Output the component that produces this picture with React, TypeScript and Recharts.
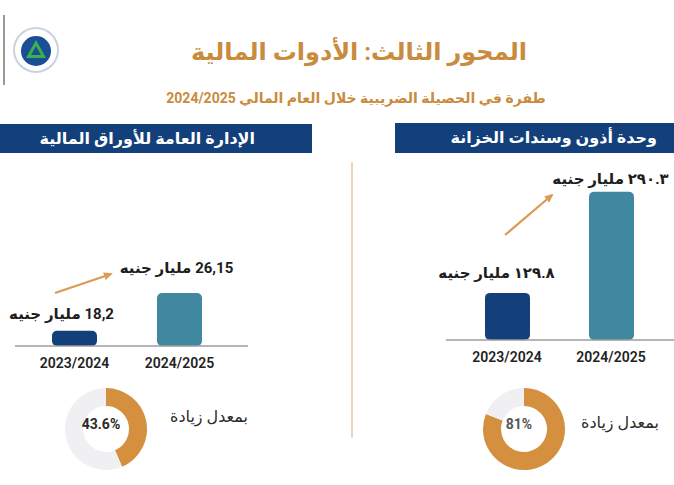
import React from 'react';
import { BarChart, Bar, XAxis, YAxis, LabelList, Cell, PieChart, Pie, Label } from 'recharts';

// fiscal years shown under both bar pairs
const years = ['2023/2024', '2024/2025'];
// الإدارة العامة للأوراق المالية (billion EGP)
const securitiesValues = [18.2, 26.15];
// وحدة أذون وسندات الخزانة (billion EGP)
const treasuryValues = [129.8, 290.3];
// growth rates (%)
const securitiesRate = 43.6;
const treasuryRate = 81;

const NAVY = '#133f7b';
const TEAL = '#3f88a0';
const ORANGE = '#d48f3f';
const GREY_RING = '#f0f0f3';
const FONT = "Roboto, 'DejaVu Sans', sans-serif";

const barColors = [NAVY, TEAL];

const securitiesData = years.map((year, i) => ({ year, value: securitiesValues[i] }));
const treasuryData = years.map((year, i) => ({ year, value: treasuryValues[i] }));

const commaDecimal = (v: number) => String(v).replace('.', ',');
const arabicDigits = (v: number) => String(v).replace(/\d/g, (d) => '٠١٢٣٤٥٦٧٨٩'[Number(d)]);

const makeValueLabel =
  (fmt: (v: number) => string, dx: number[], dy: number[]) =>
  (props: any) => {
    const { x, y, width, value, index } = props;
    return (
      <text
        x={x + width / 2 + dx[index]}
        y={y - dy[index]}
        textAnchor="middle"
        direction="rtl"
        fontFamily={FONT}
        fontSize={15}
        fontWeight={700}
        fill="#1d1d1d"
      >
        {fmt(value)} مليار جنيه
      </text>
    );
  };

const pieData = (rate: number) => [
  { name: 'increase', value: rate },
  { name: 'rest', value: 100 - rate },
];

const Donut = ({ rate, left, top, labelColor }: { rate: number; left: number; top: number; labelColor: string }) => (
  <div style={{ position: 'absolute', left, top }}>
    <PieChart width={100} height={100}>
      <Pie
        data={pieData(rate)}
        dataKey="value"
        cx={50}
        cy={50}
        innerRadius={23}
        outerRadius={41}
        startAngle={90}
        endAngle={-270}
        stroke="none"
        isAnimationActive={false}
      >
        <Cell fill={ORANGE} />
        <Cell fill={GREY_RING} />
        <Label
          position="center"
          value={`${rate}%`}
          style={{ fontFamily: FONT, fontSize: 14, fontWeight: 700, fill: labelColor }}
        />
      </Pie>
    </PieChart>
  </div>
);

const Logo = () => (
  <svg width={60} height={90} style={{ position: 'absolute', left: 0, top: 0 }}>
    <line x1={4} y1={15} x2={4} y2={85} stroke="#777" strokeWidth={1.5} />
    <circle cx={36} cy={50} r={22} fill="#fff" stroke="#c9d3e0" strokeWidth={2} />
    <circle cx={36} cy={51} r={15} fill="#1b4f95" />
    <polygon points="36,40 46,58 26,58" fill="#3fb14a" />
    <polygon points="36,46 41,55 31,55" fill="#1b4f95" />
  </svg>
);

export default function App() {
  return (
    <div
      style={{
        position: 'absolute',
        left: 0,
        top: 0,
        width: 674,
        height: 485,
        background: '#fff',
        overflow: 'hidden',
        fontFamily: FONT,
      }}
    >
      <Logo />

      <div
        style={{
          position: 'absolute',
          left: 159,
          top: 37,
          width: 400,
          textAlign: 'center',
          direction: 'rtl',
          fontSize: 24,
          lineHeight: '30px',
          fontWeight: 700,
          color: '#c98b3d',
        }}
      >
        المحور الثالث: الأدوات المالية
      </div>
      <div
        style={{
          position: 'absolute',
          left: 106,
          top: 89,
          width: 500,
          textAlign: 'center',
          direction: 'rtl',
          fontSize: 14,
          lineHeight: '18px',
          fontWeight: 700,
          color: '#c98b3d',
        }}
      >
        طفرة في الحصيلة الضريبية خلال العام المالي 2024/2025
      </div>

      {/* section headers */}
      <div
        style={{
          position: 'absolute',
          left: 0,
          top: 124,
          width: 312,
          height: 29,
          background: NAVY,
          color: '#fff',
          direction: 'rtl',
          boxSizing: 'border-box',
          paddingRight: 57,
          fontSize: 16,
          fontWeight: 700,
          lineHeight: '29px',
        }}
      >
        الإدارة العامة للأوراق المالية
      </div>
      <div
        style={{
          position: 'absolute',
          left: 395,
          top: 123,
          width: 279,
          height: 30,
          background: NAVY,
          color: '#fff',
          direction: 'rtl',
          boxSizing: 'border-box',
          paddingRight: 17,
          fontSize: 16,
          fontWeight: 700,
          lineHeight: '30px',
        }}
      >
        وحدة أذون وسندات الخزانة
      </div>

      {/* divider and growth arrows */}
      <svg width={674} height={485} style={{ position: 'absolute', left: 0, top: 0 }}>
        <defs>
          <marker
            id="head"
            markerUnits="userSpaceOnUse"
            markerWidth="9"
            markerHeight="8"
            refX="7"
            refY="4"
            orient="auto"
          >
            <path d="M0,0 L9,4 L0,8 z" fill="#dc9a52" />
          </marker>
        </defs>
        <line x1={352} y1={162} x2={352} y2={438} stroke="#e6c9a3" strokeWidth={1.5} />
        <line x1={55} y1={293} x2={111} y2={274} stroke="#dc9a52" strokeWidth={2.2} markerEnd="url(#head)" />
        <line x1={505} y1={235} x2={552} y2={195} stroke="#dc9a52" strokeWidth={2.2} markerEnd="url(#head)" />
      </svg>

      {/* left bars */}
      <div style={{ position: 'absolute', left: 0, top: 160 }}>
        <BarChart width={262} height={220} data={securitiesData} margin={{ top: 20, right: 14, left: 15, bottom: 0 }}>
          <XAxis
            dataKey="year"
            height={34}
            padding={{ left: 7, right: 16 }}
            tickLine={false}
            tickMargin={6}
            axisLine={{ stroke: '#9c9c9c', strokeWidth: 1.5 }}
            tick={{ fontFamily: FONT, fontSize: 14, fontWeight: 600, fill: '#222' }}
          />
          <YAxis hide domain={[15, 50]} allowDataOverflow />
          <Bar dataKey="value" barSize={45} radius={5} isAnimationActive={false}>
            {securitiesData.map((d, i) => (
              <Cell key={d.year} fill={barColors[i]} />
            ))}
            <LabelList dataKey="value" content={makeValueLabel(commaDecimal, [-13, -3], [12, 20])} />
          </Bar>
        </BarChart>
      </div>

      {/* right bars */}
      <div style={{ position: 'absolute', left: 420, top: 150 }}>
        <BarChart width={254} height={224} data={treasuryData} margin={{ top: 20, right: 0, left: 26, bottom: 0 }}>
          <XAxis
            dataKey="year"
            height={34}
            padding={{ left: 9, right: 11 }}
            tickLine={false}
            tickMargin={6}
            axisLine={{ stroke: '#9c9c9c', strokeWidth: 1.5 }}
            tick={{ fontFamily: FONT, fontSize: 14, fontWeight: 600, fill: '#222' }}
          />
          <YAxis hide domain={[55, 325]} allowDataOverflow />
          <Bar dataKey="value" barSize={45} radius={5} isAnimationActive={false}>
            {treasuryData.map((d, i) => (
              <Cell key={d.year} fill={barColors[i]} />
            ))}
            <LabelList dataKey="value" content={makeValueLabel(arabicDigits, [-11, -1], [15, 8])} />
          </Bar>
        </BarChart>
      </div>

      {/* growth donuts */}
      <Donut rate={securitiesRate} left={51} top={374} labelColor="#2a2a2a" />
      <Donut rate={treasuryRate} left={469} top={374} labelColor="#555" />

      <div
        style={{
          position: 'absolute',
          left: 150,
          top: 406,
          width: 118,
          textAlign: 'center',
          direction: 'rtl',
          fontSize: 16,
          lineHeight: '22px',
          color: '#2b2b2b',
        }}
      >
        بمعدل زيادة
      </div>
      <div
        style={{
          position: 'absolute',
          left: 561,
          top: 412,
          width: 118,
          textAlign: 'center',
          direction: 'rtl',
          fontSize: 16,
          lineHeight: '22px',
          color: '#2b2b2b',
        }}
      >
        بمعدل زيادة
      </div>
    </div>
  );
}
